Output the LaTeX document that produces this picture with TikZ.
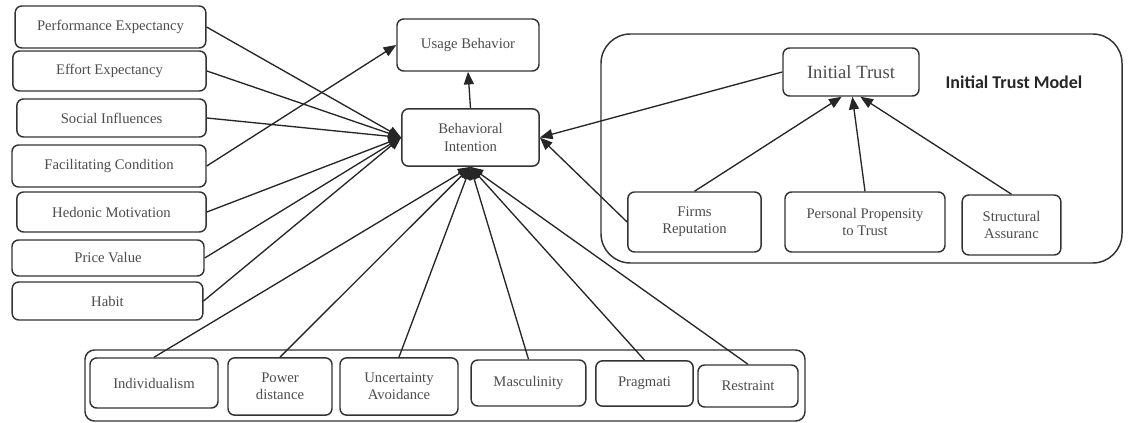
\documentclass[tikz,border=0pt]{standalone}
\usepackage{fontspec}
\setmainfont{Liberation Serif}
\newfontfamily\modelfont{Carlito}
\usetikzlibrary{positioning, arrows.meta}

\tikzset{
  factor/.style={draw=black!80, line width=1.1pt, rounded corners=5pt, align=center,
    inner sep=0pt, text=black!70, font=\fontsize{11}{13}\selectfont},
  link/.style={draw=black!85, line width=1pt, -{Triangle[length=9.5pt,width=7.5pt]}},
  group/.style={draw=black!80, line width=1.1pt}
}

\begin{document}
\begin{tikzpicture}[x=0.75pt, y=-0.75pt]
  \useasboundingbox (0,0) rectangle (1134,423);

  % containers
  \draw[group, rounded corners=22pt] (601,34) rectangle (1122,263);
  \draw[group, rounded corners=7pt] (85,350) rectangle (805,421);

  % UTAUT2 constructs
  \node[factor, minimum width=143pt, minimum height=31.5pt] (pe) at (110.5,27) {Performance Expectancy};
  \node[factor, minimum width=145pt, minimum height=30pt] (ee) at (109.5,71) {Effort Expectancy};
  \node[factor, minimum width=142pt, minimum height=28.5pt] (si) at (111.5,118) {Social Influences};
  \node[factor, minimum width=145.5pt, minimum height=31.5pt] (fc) at (109,166) {Facilitating Condition};
  \node[factor, minimum width=142pt, minimum height=30pt] (hm) at (111.5,212) {Hedonic Motivation};
  \node[factor, minimum width=144pt, minimum height=27pt] (pv) at (108,258) {Price Value};
  \node[factor, minimum width=143pt, minimum height=28.5pt] (hb) at (107.5,301) {Habit};

  \node[factor, minimum width=106.5pt, minimum height=39pt] (ub) at (468,45) {Usage Behavior};
  \node[factor, minimum width=103pt, minimum height=43pt] (bi) at (470.5,137.5) {Behavioral\\Intention};

  % trust model
  \node[factor, minimum width=102pt, minimum height=36pt, font=\fontsize{14}{16}\selectfont] (it) at (851,72) {Initial Trust};
  \node[font=\modelfont\bfseries\fontsize{13.5}{15}\selectfont, text=black!85] (itm) at (1014,82) {Initial Trust Model};
  \node[factor, minimum width=100pt, minimum height=45pt] (fr) at (694.5,222) {Firms\\Reputation};
  \node[factor, minimum width=120pt, minimum height=45pt] (pp) at (865,222) {Personal Propensity\\to Trust};
  \node[factor, minimum width=74pt, minimum height=45pt] (sa) at (1011.5,225) {Structural\\Assuranc};

  % cultural dimensions
  \node[factor, minimum width=96pt, minimum height=37.5pt] (ind) at (154,383) {Individualism};
  \node[factor, minimum width=78pt, minimum height=43pt] (pd) at (280,386.5) {Power\\distance};
  \node[factor, minimum width=88.5pt, minimum height=43pt] (ua) at (399,386.5) {Uncertainty\\Avoidance};
  \node[factor, minimum width=86pt, minimum height=34.5pt] (ma) at (528.5,383) {Masculinity};
  \node[factor, minimum width=73pt, minimum height=34pt] (pr) at (644.5,383.5) {Pragmati};
  \node[factor, minimum width=75pt, minimum height=31.5pt] (rs) at (748,386) {Restraint};

  % arrows
  \foreach \src in {pe,ee,si,hm,pv,hb}
    \draw[link] (\src.east) -- (bi.west);
  \draw[link] (fc.east) -- (ub.west);
  \draw[link] (bi.north) -- (ub.south);
  \foreach \src in {ind,pd,ua,ma,pr,rs}
    \draw[link] (\src.north) -- (bi.south);
  \draw[link] (it.west) -- (bi.east);
  \draw[link] (fr.west) -- (bi.east);
  \draw[link] (fr.north) -- ([xshift=-7pt]it.south);
  \draw[link] (pp.north) -- ([xshift=1pt]it.south);
  \draw[link] (sa.north) -- ([xshift=7pt]it.south);
\end{tikzpicture}
\end{document}
